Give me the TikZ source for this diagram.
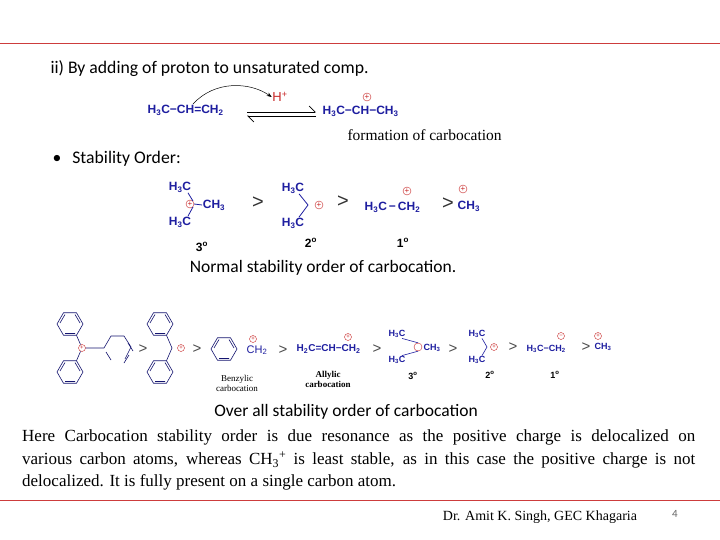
\documentclass[tikz,border=0pt]{standalone}
\usepackage{fontspec}
\setmainfont{Liberation Serif}
\newfontfamily\chemf{Liberation Sans}
\newfontfamily\calf{Carlito}
\usetikzlibrary{arrows.meta}
\definecolor{chemblue}{RGB}{30,30,160}
\definecolor{cpred}{RGB}{200,40,40}
\definecolor{linered}{RGB}{205,60,60}
\newcommand{\ssb}[1]{\textsubscript{#1}}
\newcommand{\bd}{{\char"2212}}
\tikzset{
 ch/.style={font=\chemf\bfseries\fontsize{12}{12}\selectfont,text=chemblue,inner sep=0.5pt},
 cp/.style={circle,draw=cpred,inner sep=0pt,minimum size=8pt,font=\chemf\fontsize{8}{8}\selectfont,text=cpred},
 cps/.style={cp,minimum size=7pt,font=\chemf\fontsize{6}{6}\selectfont},
 bond/.style={chemblue,line width=0.8pt},
 ring/.style={chemblue!70!black,line width=0.6pt},
 gt/.style={font=\chemf\fontsize{20}{20}\selectfont,text=black!80,inner sep=0},
 gts/.style={font=\chemf\fontsize{15}{15}\selectfont,text=black!70,inner sep=0},
 lab/.style={font=\chemf\bfseries\fontsize{12}{12}\selectfont,inner sep=0},
 chs/.style={ch,font=\chemf\bfseries\fontsize{9}{9}\selectfont},
 small/.style={font=\fontsize{9}{10}\selectfont,align=center,inner sep=0},
 cal/.style={font=\calf\fontsize{17.5}{17.5}\selectfont},
}
\newcommand{\benz}[3]{%
 \draw[ring] (#1+13,#2) -- (#1+6.5,#2-11.26) -- (#1-6.5,#2-11.26) -- (#1-13,#2) -- (#1-6.5,#2+11.26) -- (#1+6.5,#2+11.26) -- cycle;
 \draw[ring] (#1+10,#2-1) -- (#1+5,#2-9.5) (#1-5,#2-9.5) -- (#1-10,#2-1) (#1-5,#2+9.5) -- (#1+5,#2+9.5);
 \coordinate (#3) at (#1,#2);}
\begin{document}
\begin{tikzpicture}[x=1pt,y=-1pt]
\useasboundingbox (0,0) rectangle (720,540);
\fill[white] (0,0) rectangle (720,540);
\coordinate (tl) at (0,43); \coordinate (tr) at (720,43);
\draw[linered,line width=0.8pt] (tl) -- (tr);
\coordinate (bl) at (0,500); \coordinate (br) at (720,500);
\draw[linered,line width=0.8pt] (bl) -- (br);

\node[anchor=west,font=\calf\fontsize{17.7}{17.7}\selectfont] (t1) at (47,69) {ii) By adding of proton to unsaturated comp.};
% reaction
\node[ch,anchor=west] (r1) at (147,110) {H\ssb{3}C\bd CH=CH\ssb{2}};
\node[ch,text=cpred,font=\chemf\fontsize{13}{13}\selectfont] (hp) at (280,97) {H\textsuperscript{+}};
\coordinate (cs) at (193,104);
\draw[-{Stealth[length=5pt]},line width=0.5pt] (cs) .. controls (215,80) and (250,82) .. (hp.west);
\coordinate (e1) at (247,112); \coordinate (e2) at (316,112);
\coordinate (e3) at (247,116); \coordinate (e4) at (316,116);
\draw[line width=0.7pt,-{Straight Barb[left,length=6pt]}] (e1) -- (e2);
\draw[line width=0.7pt,-{Straight Barb[left,length=6pt]}] (e4) -- (e3);
\node[ch,anchor=west] (p1) at (322,111) {H\ssb{3}C\bd CH\bd CH\ssb{3}};
\node[cp] (pc1) at (367,97) {+};
\node[anchor=west,font=\fontsize{15.5}{15.5}\selectfont] (f1) at (344,135) {formation of carbocation};

\node[anchor=west,font=\calf\fontsize{17.7}{17.7}\selectfont] (b1) at (49,159) {\textbullet\hspace{11pt}Stability Order:};

% row 2
\node[ch] (a1) at (180,187) {H\ssb{3}C};
\node[ch] (a2) at (180,222) {H\ssb{3}C};
\node[cp] (ac) at (190,204) {+};
\node[ch] (a3) at (214,205) {CH\ssb{3}};
\draw[bond] (a1.south) ++(8,0) -- (ac.north east);
\draw[bond] (a2.north) ++(8,0) -- (ac.south east);
\draw[bond] (ac.east) -- (a3.west);
\node[gt] (g1) at (258,203) {>};
\node[ch] (b2a) at (293,188) {H\ssb{3}C};
\node[ch] (b2b) at (293,223) {H\ssb{3}C};
\coordinate (bv) at (308,205);
\draw[bond] (b2a.south) ++(6,0) -- (bv);
\draw[bond] (b2b.north) ++(6,0) -- (bv);
\node[cp] (bc) at (319,205) {+};
\node[gt] (g2) at (343,202) {>};
\node[ch,anchor=west] (c1) at (364,207) {H\ssb{3}C\,\bd\,CH\ssb{2}};
\node[cp] (cc) at (407,191) {+};
\node[gt] (g3) at (448,204) {>};
\node[ch,anchor=west] (d1) at (457,206) {CH\ssb{3}};
\node[cp] (dc) at (463,189) {+};
\node[lab] (l3) at (202,247) {3\textsuperscript{o}};
\node[lab] (l2) at (311,243) {2\textsuperscript{o}};
\node[lab] (l1) at (403,243) {1\textsuperscript{o}};
\node[cal] (n1) at (323,268) {Normal stability order of carbocation.};

% row 3
\benz{70}{324}{r1a}
\benz{70}{372}{r1b}
\node[cps] (t1c) at (82,348) {+};
\draw[ring] (76.5,335.3) -- (t1c) -- (76.5,360.7);
\coordinate (k1) at (104,348); \coordinate (k2) at (111,336);
\coordinate (k3) at (124,336); \coordinate (k4) at (131,347);
\coordinate (k5) at (125,359);
\draw[ring] (t1c) -- (k1) -- (k2) -- (k3) -- (k4) -- (k5);
\draw[ring] (106,352) -- (111,360);
\draw[ring] (128,343) -- (133,351) (124,363) -- (129,355);
\node[gts] (g4) at (143,349) {>};
\benz{160}{324}{r2a}
\benz{160}{372}{r2b}
\coordinate (dv) at (172,348);
\draw[ring] (166.5,335.3) -- (dv) -- (166.5,360.7);
\node[cps] (dpc) at (181,348) {+};
\node[gts] (g5) at (197,349) {>};
\benz{224}{349}{r3}
\node[ch,font=\chemf\fontsize{11}{11}\selectfont] (bz) at (257,350) {CH\ssb{2}};
\node[cps] (bzc) at (253,339) {+};
\node[small] (bzl) at (237,383) {Benzylic\\carbocation};
\node[gts] (g6) at (283,350) {>};
\node[ch,anchor=west,font=\chemf\bfseries\fontsize{10}{10}\selectfont] (al) at (296,349) {H\ssb{2}C=CH\bd CH\ssb{2}};
\node[cps] (alc) at (348,337) {+};
\node[small,font=\bfseries\fontsize{9}{10}\selectfont] (all) at (328,379) {Allylic\\carbocation};
\node[gts] (g7) at (377,349) {>};
\node[chs] (e1a) at (397,334) {H\ssb{3}C};
\node[chs] (e1b) at (397,360) {H\ssb{3}C};
\node[circle,draw=cpred,minimum size=8pt,inner sep=0] (ec) at (418,347) {};
\draw[bond,line width=0.6pt] (e1a.south) ++(5,0) -- (ec.north);
\draw[bond,line width=0.6pt] (e1b.north) ++(5,0) -- (ec.south);
\node[chs] (e1c) at (432,348) {CH\ssb{3}};
\node[gts] (g8) at (453,349) {>};
\node[chs] (f2a) at (477,334) {H\ssb{3}C};
\node[chs] (f2b) at (477,360) {H\ssb{3}C};
\coordinate (fv) at (487,347);
\draw[bond,line width=0.6pt] (f2a.south) ++(5,0) -- (fv);
\draw[bond,line width=0.6pt] (f2b.north) ++(5,0) -- (fv);
\node[cps] (fc) at (494,347) {+};
\node[gts] (g9) at (513,347) {>};
\node[chs,anchor=west] (h1) at (526,349) {H\ssb{3}C\bd CH\ssb{2}};
\node[cps] (hc) at (561,336) {\bd};
\node[gts] (g10) at (586,347) {>};
\node[chs] (i1) at (603,347) {CH\ssb{3}};
\node[cps] (ic) at (598,336) {+};
\node[lab,font=\chemf\bfseries\fontsize{9}{9}\selectfont] (m3) at (413,376) {3\textsuperscript{o}};
\node[lab,font=\chemf\bfseries\fontsize{9}{9}\selectfont] (m2) at (490,375) {2\textsuperscript{o}};
\node[lab,font=\chemf\bfseries\fontsize{9}{9}\selectfont] (m1) at (555,375) {1\textsuperscript{o}};

\node[cal] (o1) at (346,412) {Over all stability order of carbocation};
\node[anchor=north west,text width=673pt,align=justify,inner sep=0,font=\fontsize{17}{22.5}\selectfont] (para) at (22,430) {Here Carbocation stability order is due resonance as the positive charge is delocalized on\linebreak various carbon atoms, whereas CH\ssb{3}\textsuperscript{+} is least stable, as in this case the positive charge is not\linebreak delocalized. It is fully present on a single carbon atom.};
\node[font=\fontsize{14}{14}\selectfont] (ft) at (540,517) {Dr. Amit K. Singh, GEC Khagaria};
\node[font=\calf\fontsize{11}{11}\selectfont,text=black!60] (pg) at (675,514) {4};
\end{tikzpicture}
\end{document}
